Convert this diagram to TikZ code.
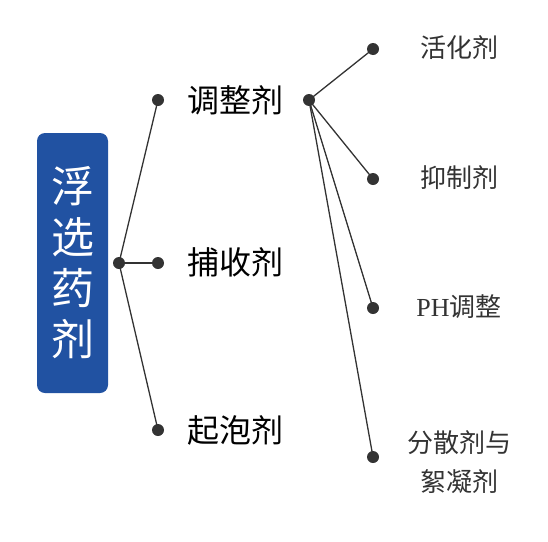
\documentclass[tikz,border=0pt]{standalone}
\usepackage{fontspec}
\setmainfont{Liberation Serif}
\newfontfamily\cjk{Noto Sans CJK SC}
\definecolor{boxblue}{HTML}{2152A2}
\definecolor{ink}{HTML}{333333}
\tikzset{
    dot/.style={circle, fill=ink, inner sep=0pt, minimum size=12pt},
    link/.style={draw=ink, line width=1.3pt},
    big/.style={font=\cjk\fontsize{32}{36}\selectfont, text=black},
    small/.style={font=\cjk\fontsize{26}{39}\selectfont, text=ink, align=center},
}
\begin{document}
\begin{tikzpicture}[x=1pt, y=-1pt]
        \useasboundingbox (0, 0) rectangle (548, 541);
        \node[fill=boxblue, rounded corners=8pt, minimum width=71pt, minimum height=260pt, inner sep=0pt,
              text=white, align=center, font=\cjk\fontsize{43}{51}\selectfont] (root) at (72.5, 263) {浮\\选\\药\\剂};
        \node[dot] (hub) at (119, 263) {};
        \node[dot] (a) at (158, 100) {};
        \node[dot] (b) at (158, 263) {};
        \node[dot] (c) at (158, 430) {};
        \node[big] at (235, 100) {调整剂};
        \node[big] at (235, 262) {捕收剂};
        \node[big] at (235, 430) {起泡剂};
        \node[dot] (sub) at (309, 100) {};
        \node[dot] (s1) at (373, 49) {};
        \node[dot] (s2) at (373, 179) {};
        \node[dot] (s3) at (373, 308) {};
        \node[dot] (s4) at (373, 457) {};
        \node[small] at (459, 48) {活化剂};
        \node[small] at (459, 178) {抑制剂};
        \node[small] at (459, 307) {{\rmfamily PH}调整};
        \node[small] at (459, 462) {分散剂与\\絮凝剂};
        \draw[link] (hub.center) -- (a.center);
        \draw[link] (hub.center) -- (b.center);
        \draw[link] (hub.center) -- (c.center);
        \foreach \s in {s1, s2, s3, s4}
            \draw[link] (sub.center) -- (\s.center);
    \end{tikzpicture}
\end{document}
